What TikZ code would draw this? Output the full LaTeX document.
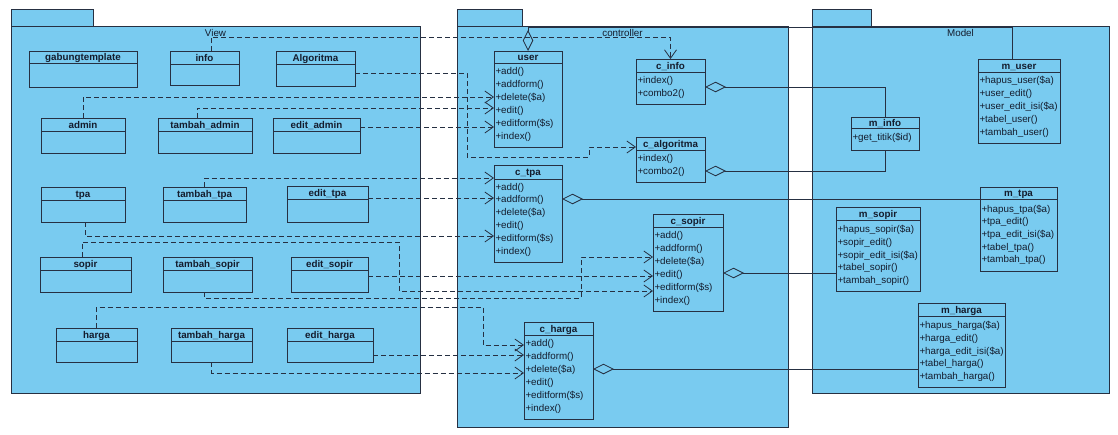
\documentclass[tikz,border=0pt]{standalone}
\usepackage{fontspec}
\setmainfont{Liberation Sans}
\usetikzlibrary{arrows.meta}

\definecolor{pkgfill}{RGB}{121,203,240}
\definecolor{umlline}{RGB}{38,48,66}
\definecolor{umltext}{RGB}{20,28,45}

\tikzset{
  pkgbody/.style={draw=umlline, fill=pkgfill, line width=0.9pt, inner sep=0pt, outer sep=0pt, anchor=north west},
  pkglabel/.style={font=\fontsize{9.8}{11}\selectfont, text=umltext, anchor=base, inner sep=0pt},
  classbox/.style={draw=umlline, fill=pkgfill, line width=0.9pt, inner sep=0pt, outer sep=0pt, anchor=north west},
  classrule/.style={draw=umlline, line width=0.9pt},
  classtitle/.style={font=\bfseries\fontsize{9.8}{11}\selectfont, text=umltext, anchor=base, inner sep=0pt},
  method/.style={font=\fontsize{9.8}{11}\selectfont, text=umltext, anchor=base west, inner sep=0pt},
  dep/.style={draw=umlline, line width=0.8pt, dash pattern=on 5pt off 3pt,
    -{Straight Barb[length=8.5pt,width=12pt]}},
  agg/.style={draw=umlline, line width=0.8pt, {Diamond[open,length=21pt,width=10.5pt]}-},
}

% package: name, left, tab right, right, bottom, label
\newcommand\umlpackage[6]{%
  \pgfmathsetmacro\pkgw{#4-#2}%
  \pgfmathsetmacro\pkgh{#5-26}%
  \pgfmathsetmacro\tabw{#3-#2}%
  \node[pkgbody, minimum width=\tabw pt, minimum height=17pt] (#1tab) at (#2,9) {};
  \node[pkgbody, minimum width=\pkgw pt, minimum height=\pkgh pt] (#1) at (#2,26) {};
  \node[pkglabel] at ({(#2+#4)/2},36.4) {#6};
}

% class: name, left, top, right, bottom, header rule, title
\newcommand\umlclass[7]{%
  \pgfmathsetmacro\clsw{#4-#2}%
  \pgfmathsetmacro\clsh{#5-#3}%
  \node[classbox, minimum width=\clsw pt, minimum height=\clsh pt] (#1) at (#2,#3) {};
  \draw[classrule] (#2,#6) -- (#4,#6);
  \node[classtitle] at ({(#2+#4)/2},{(#3+#6)/2+3.5}) {#7};
}

% operations: left, centre of first line, line step, list
\newcommand\umlops[4]{%
  \foreach \op [count=\k from 0] in {#4}
    {\node[method] at ({#1+1.3},{#2+3.5+\k*#3}) {\op};}
}

\begin{document}
\begin{tikzpicture}[x=1pt,y=-1pt]
\useasboundingbox[fill=white] (0,0) rectangle (1118,434);

% packages
\umlpackage{View}{11}{93}{420}{393}{View}
\umlpackage{controller}{457}{522}{788}{427}{controller}
\umlpackage{Model}{812}{871}{1109}{393}{Model}

% view classes
\umlclass{vgab}{29}{51}{137}{87}{63}{gabungtemplate}
\umlclass{vinfo}{170}{51}{239}{85}{64}{info}
\umlclass{valgo}{276}{51}{355}{86}{64}{Algoritma}
\umlclass{vadmin}{41}{118}{125}{153}{131}{admin}
\umlclass{vtadmin}{158}{118}{252}{153}{131}{tambah\_admin}
\umlclass{veadmin}{273}{118}{360}{153}{131}{edit\_admin}
\umlclass{vtpa}{41}{187}{125}{222}{200}{tpa}
\umlclass{vttpa}{163}{187}{246}{222}{200}{tambah\_tpa}
\umlclass{vetpa}{287}{186}{368}{222}{199}{edit\_tpa}
\umlclass{vsopir}{40}{257}{131}{292}{270}{sopir}
\umlclass{vtsopir}{163}{257}{252}{292}{270}{tambah\_sopir}
\umlclass{vesopir}{291}{257}{368}{292}{270}{edit\_sopir}
\umlclass{vharga}{56}{328}{137}{362}{341}{harga}
\umlclass{vtharga}{171}{328}{252}{362}{341}{tambah\_harga}
\umlclass{veharga}{287}{328}{373}{362}{341}{edit\_harga}

% controller classes
\umlclass{user}{494}{51}{562}{147}{63}{user}
\umlops{494}{71}{13}{+add(),+addform(),+delete(\$a),+edit(),+editform(\$s),+index()}
\umlclass{cinfo}{636}{59}{705}{104}{72}{c\_info}
\umlops{636}{80}{13}{+index(),+combo2()}
\umlclass{calgo}{636}{137}{705}{182}{150}{c\_algoritma}
\umlops{636}{158}{13}{+index(),+combo2()}
\umlclass{ctpa}{494}{165}{562}{262}{179}{c\_tpa}
\umlops{494}{186.5}{12.9}{+add(),+addform(),+delete(\$a),+edit(),+editform(\$s),+index()}
\umlclass{csopir}{653}{214}{723}{311}{227}{c\_sopir}
\umlops{653}{235}{13}{+add(),+addform(),+delete(\$a),+edit(),+editform(\$s),+index()}
\umlclass{charga}{524}{322}{593}{419}{335}{c\_harga}
\umlops{524}{343}{13}{+add(),+addform(),+delete(\$a),+edit(),+editform(\$s),+index()}

% model classes
\umlclass{muser}{978}{59}{1060}{143}{72}{m\_user}
\umlops{978}{80}{13}{+hapus\_user(\$a),+user\_edit(),+user\_edit\_isi(\$a),+tabel\_user(),+tambah\_user()}
\umlclass{minfo}{851}{117}{919}{150}{128}{m\_info}
\umlops{851}{137}{13}{+get\_titik(\$id)}
\umlclass{mtpa}{980}{187}{1057}{271}{199}{m\_tpa}
\umlops{980}{208.5}{12.7}{+hapus\_tpa(\$a),+tpa\_edit(),+tpa\_edit\_isi(\$a),+tabel\_tpa(),+tambah\_tpa()}
\umlclass{msopir}{836}{207}{920}{291}{220}{m\_sopir}
\umlops{836}{229}{12.8}{+hapus\_sopir(\$a),+sopir\_edit(),+sopir\_edit\_isi(\$a),+tabel\_sopir(),+tambah\_sopir()}
\umlclass{mharga}{918}{303}{1005}{387}{316}{m\_harga}
\umlops{918}{325}{12.8}{+hapus\_harga(\$a),+harga\_edit(),+harga\_edit\_isi(\$a),+tabel\_harga(),+tambah\_harga()}

% dependencies from the views to the controllers
\draw[dep] ([xshift=6.5pt]vinfo.north) -- ++(0,-14) -| (cinfo.north);
\draw[dep] ([yshift=-4.5pt]valgo.east) -| (467,157) -| (589,147) -- ([yshift=12.5pt]calgo.west);
\draw[dep] (vadmin.north) |- ([yshift=2pt]user.west);
\draw[dep] ([xshift=-8pt]vtadmin.north) |- ([yshift=-9pt]user.west);
\draw[dep] ([yshift=8.5pt]veadmin.east) -- (user.west |- 0,127);
\draw[dep] (vttpa.north) |- ([yshift=-13pt]ctpa.north west);
\draw[dep] ([yshift=6pt]vetpa.east) -- (ctpa.west |- 0,198);
\draw[dep] ([xshift=2pt]vtpa.south) |- ([yshift=-71pt]ctpa.north west);
\draw[dep] ([xshift=-3.5pt]vsopir.north) |- (399,242) |- (csopir.west |- 0,291);
\draw[dep] ([xshift=-3.5pt]vtsopir.south) |- (581,298) |- (csopir.west |- 0,257);
\draw[dep] ([yshift=-1.5pt]vesopir.east) -- (csopir.west |- 0,276);
\draw[dep] (vharga.north) |- (483,307) |- (charga.west |- 0,345);
\draw[dep] ([yshift=-10pt]veharga.east) -- (charga.west |- 0,355);
\draw[dep] (vtharga.south) |- (charga.west |- 0,373);

% aggregations from the controllers to the models
\draw[agg] (user.north) -- ++(0,-24) -| ([xshift=-7pt]muser.north);
\draw[agg] (cinfo.east |- 0,87) -| (minfo.north);
\draw[agg] (calgo.east |- 0,171) -| (minfo.south);
\draw[agg] (ctpa.east |- 0,199) -- (mtpa.west |- 0,199);
\draw[agg] (csopir.east |- 0,273) -- (msopir.west |- 0,273);
\draw[agg] (charga.east |- 0,369) -- (mharga.west |- 0,369);
\end{tikzpicture}
\end{document}
